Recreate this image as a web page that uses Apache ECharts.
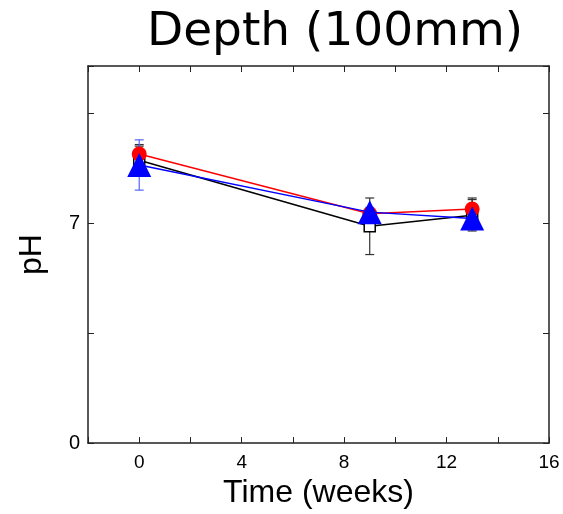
<!DOCTYPE html>
<html>
<head>
<meta charset="utf-8">
<script src="https://cdn.jsdelivr.net/npm/echarts@6/dist/echarts.min.js"></script>
<style>
  html, body { margin: 0; padding: 0; background: #fff; }
  #chart { width: 563px; height: 514px; }
</style>
</head>
<body>
<div id="chart"></div>
<script>
const weeks = [0, 9, 13];
const redPH = [9.2, 7.3, 7.45];
const redErr = [0.25, 0.15, 0.35];
const blackPH = [9.0, 6.9, 7.25];
const blackErr = [0.5, 0.9, 0.5];
const bluePH = [8.85, 7.35, 7.15];
const blueErr = [0.8, 0.15, 0.2];

const xTicks = [0, 4, 8, 12, 16];
const yTicks = [0, 7];

const font = '"Liberation Sans", Arial, sans-serif';

function pts(ys) {
  return weeks.map((w, i) => [w, ys[i]]);
}
function errPts(ys, es) {
  return weeks.map((w, i) => [w, ys[i], es[i]]);
}

function errorBars(color) {
  return function (params, api) {
    const x = api.value(0), y = api.value(1), e = api.value(2);
    const top = api.coord([x, y + e]);
    const bot = api.coord([x, y - e]);
    const w = 4.5;
    const style = { stroke: color, lineWidth: 1.2 };
    return {
      type: 'group',
      children: [
        { type: 'line', shape: { x1: top[0], y1: top[1], x2: bot[0], y2: bot[1] }, style },
        { type: 'line', shape: { x1: top[0] - w, y1: top[1], x2: top[0] + w, y2: top[1] }, style },
        { type: 'line', shape: { x1: bot[0] - w, y1: bot[1], x2: bot[0] + w, y2: bot[1] }, style }
      ]
    };
  };
}

const axisLine = { show: true, onZero: false, lineStyle: { color: '#222', width: 1.5 } };
const tick = { inside: true, length: 6, lineStyle: { color: '#222' } };

const chart = echarts.init(document.getElementById('chart'));
chart.setOption({
  animation: false,
  title: {
    text: 'Depth (100mm)',
    left: 142,
    top: 4,
    textStyle: { fontFamily: '"DejaVu Sans", sans-serif', fontSize: 47, fontWeight: 'normal', color: '#000' }
  },
  grid: { left: 88, right: 14, top: 66, bottom: 70 },
  xAxis: [
    {
      type: 'value', position: 'bottom', min: -2, max: 16, interval: 2,
      axisLine, splitLine: { show: false }, axisTick: tick,
      axisLabel: {
        margin: 10, fontFamily: font, fontSize: 19, color: '#000',
        formatter: v => (xTicks.includes(v) ? String(v) : '')
      },
      name: 'Time (weeks)', nameLocation: 'middle', nameGap: 26,
      nameTextStyle: { fontFamily: font, fontSize: 32, color: '#000' }
    },
    {
      type: 'value', position: 'top', min: -2, max: 16, interval: 2,
      axisLine, splitLine: { show: false }, axisTick: tick,
      axisLabel: { show: false }
    }
  ],
  yAxis: [
    {
      type: 'value', position: 'left', min: 0, max: 12, interval: 3.5,
      axisLine, splitLine: { show: false }, axisTick: tick,
      axisLabel: {
        margin: 8, fontFamily: font, fontSize: 20, color: '#000',
        formatter: v => (yTicks.includes(v) ? String(v) : '')
      },
      name: 'pH', nameLocation: 'middle', nameGap: 40,
      nameTextStyle: { fontFamily: font, fontSize: 32, color: '#000' }
    },
    {
      type: 'value', position: 'right', min: 0, max: 12, interval: 3.5,
      axisLine, splitLine: { show: false }, axisTick: tick,
      axisLabel: { show: false }
    }
  ],
  series: [
    { type: 'custom', z: 1, renderItem: errorBars('#333'), data: errPts(blackPH, blackErr) },
    { type: 'custom', z: 1, renderItem: errorBars('#333'), data: errPts(redPH, redErr) },
    { type: 'custom', z: 1, renderItem: errorBars('#5566ff'), data: errPts(bluePH, blueErr) },
    {
      type: 'line', z: 2, data: pts(blackPH),
      symbol: 'rect', symbolSize: 11,
      lineStyle: { color: '#000', width: 1.5 },
      itemStyle: { color: '#fff', borderColor: '#000', borderWidth: 1.5 }
    },
    {
      type: 'line', z: 3, data: pts(redPH),
      symbol: 'circle', symbolSize: 15,
      lineStyle: { color: '#ff0000', width: 1.5 },
      itemStyle: { color: '#ff0000' }
    },
    {
      type: 'line', z: 4, data: pts(bluePH),
      symbol: 'triangle', symbolSize: 24,
      lineStyle: { color: '#0000ff', width: 1.5 },
      itemStyle: { color: '#0000ff' }
    }
  ]
});
</script>
</body>
</html>
